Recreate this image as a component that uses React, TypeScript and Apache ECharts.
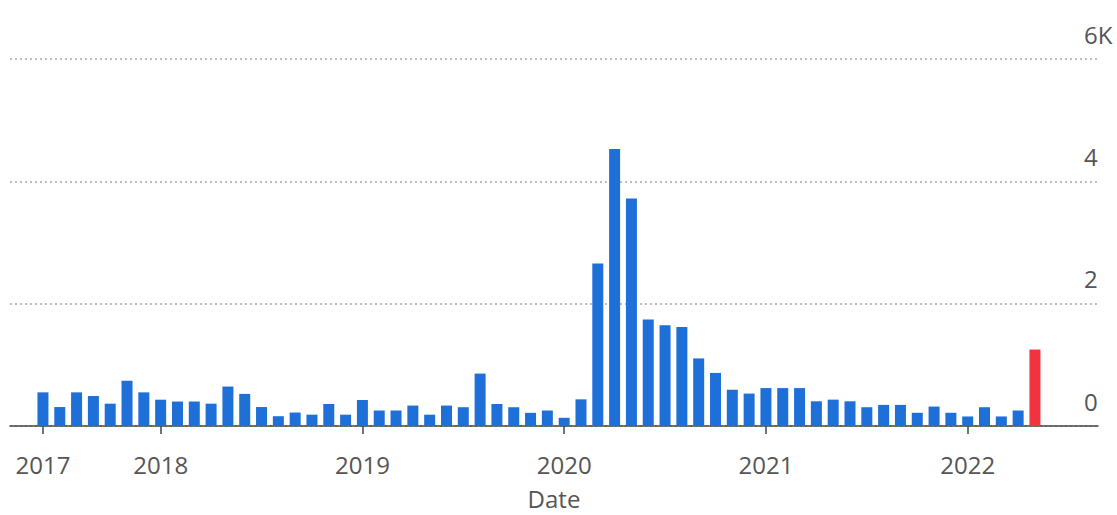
import React, { useEffect, useRef } from "react";
import * as echarts from "echarts";

const months = [
  "2017-06", "2017-07", "2017-08", "2017-09", "2017-10", "2017-11", "2017-12",
  "2018-01", "2018-02", "2018-03", "2018-04", "2018-05", "2018-06", "2018-07", "2018-08", "2018-09", "2018-10", "2018-11", "2018-12",
  "2019-01", "2019-02", "2019-03", "2019-04", "2019-05", "2019-06", "2019-07", "2019-08", "2019-09", "2019-10", "2019-11", "2019-12",
  "2020-01", "2020-02", "2020-03", "2020-04", "2020-05", "2020-06", "2020-07", "2020-08", "2020-09", "2020-10", "2020-11", "2020-12",
  "2021-01", "2021-02", "2021-03", "2021-04", "2021-05", "2021-06", "2021-07", "2021-08", "2021-09", "2021-10", "2021-11", "2021-12",
  "2022-01", "2022-02", "2022-03", "2022-04", "2022-05",
];

const values = [
  550, 310, 550, 490, 365, 740, 550,
  430, 400, 400, 365, 645, 525, 310, 160, 220, 185, 360, 185,
  425, 253, 253, 334, 185, 334, 307, 857, 360, 307, 215, 253,
  134, 436, 2657, 4527, 3719, 1741, 1649, 1617, 1105, 868, 593, 530,
  620, 620, 620, 404, 431, 404, 307, 345, 345, 216, 318, 216,
  156, 307, 156, 253, 1250,
];

const highlightMonth = "2022-05";

const yearTickMonths = ["2017-06", "2018-01", "2019-01", "2020-01", "2021-01", "2022-01"];
const yearTickLabels = ["2017", "2018", "2019", "2020", "2021", "2022"];

const yTickValues = [0, 2000, 4000, 6000];
const yTickLabels = ["0", "2", "4", "6K"];

const FONT = "'Open Sans', 'Noto Sans', sans-serif";
const BLUE = "#1f6fd8";
const RED = "#f2333f";
const TEXT = "#555555";
const AXIS = "#454545";

export default function App() {
  const ref = useRef<HTMLDivElement>(null);

  useEffect(() => {
    if (!ref.current) return;
    const chart = echarts.init(ref.current, null, { renderer: "svg" });
    const tickIdx = yearTickMonths.map((m) => months.indexOf(m));

    chart.setOption({
      animation: false,
      backgroundColor: "#ffffff",
      textStyle: { fontFamily: FONT },
      grid: { left: 10, right: 19, top: 59, bottom: 84, containLabel: false },
      xAxis: {
        type: "value",
        min: -1.96,
        max: 62.75,
        name: "Date",
        nameLocation: "middle",
        nameGap: 60,
        nameTextStyle: { fontSize: 24, color: TEXT, fontFamily: FONT },
        axisLine: { show: true, onZero: false, lineStyle: { color: AXIS, width: 1.5 } },
        axisTick: {
          show: true,
          customValues: tickIdx,
          length: 8,
          lineStyle: { color: AXIS, width: 1.5 },
        },
        axisLabel: {
          customValues: tickIdx,
          formatter: (v: number) => {
            const k = tickIdx.indexOf(Math.round(v));
            return k >= 0 ? yearTickLabels[k] : "";
          },
          fontSize: 24,
          color: TEXT,
          fontFamily: FONT,
          margin: 26,
        },
        splitLine: { show: false },
      },
      yAxis: {
        type: "value",
        position: "right",
        min: 0,
        max: 6000,
        interval: 2000,
        axisLine: { show: false },
        axisTick: { show: false },
        splitLine: {
          show: true,
          lineStyle: { color: "#a8a8a8", width: 1.5, type: [2, 3] },
        },
        axisLabel: {
          inside: true,
          align: "left",
          verticalAlign: "bottom",
          margin: 14,
          padding: [0, 0, 13, 0],
          fontSize: 24,
          color: TEXT,
          fontFamily: FONT,
          formatter: (v: number) => {
            const k = yTickValues.indexOf(v);
            return k >= 0 ? yTickLabels[k] : "";
          },
        },
      },
      series: [
        {
          type: "bar",
          barWidth: 11,
          itemStyle: { color: BLUE },
          data: months.map((m, i) => ({
            value: [i, values[i]],
            itemStyle: m === highlightMonth ? { color: RED } : undefined,
          })),
        },
      ],
    });

    return () => chart.dispose();
  }, []);

  return (
    <div
      ref={ref}
      style={{ position: "fixed", left: 0, top: 0, width: 1117, height: 515, background: "#fff" }}
    />
  );
}
